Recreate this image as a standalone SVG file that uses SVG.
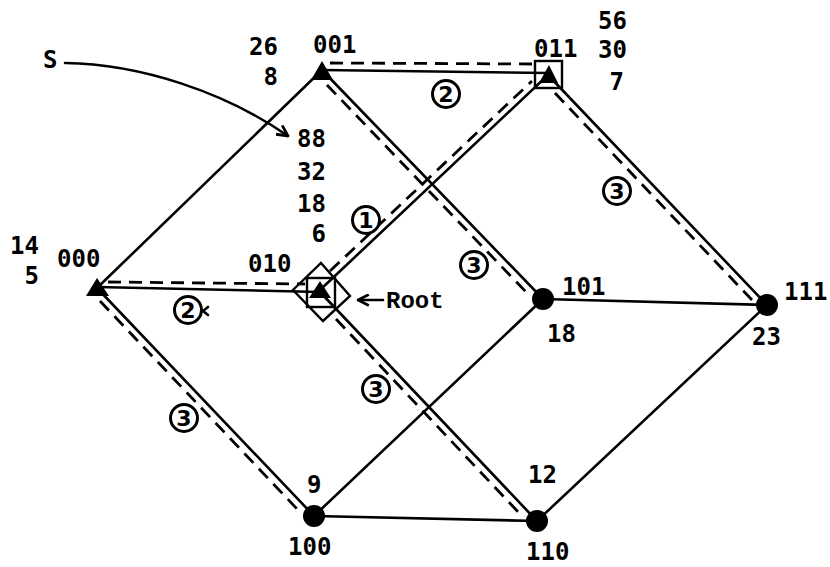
<svg xmlns="http://www.w3.org/2000/svg" width="830" height="567" viewBox="0 0 830 567">
  <defs>
    <style>
      .edge { stroke: #000; stroke-width: 2.6; fill: none; stroke-linecap: round; }
      .tree { stroke: #000; stroke-width: 2.8; fill: none; stroke-dasharray: 13 8; }
      .lbl { font-family: "DejaVu Sans Mono", "Liberation Mono", monospace; font-size: 24px; font-weight: bold; fill: #000; }
      .mono { font-family: "Liberation Mono", "Courier New", monospace; font-size: 24px; font-weight: bold; fill: #000; }
      .ring { stroke: #000; stroke-width: 3; fill: #fff; }
      .cnum { font-family: "DejaVu Sans", "Liberation Sans", sans-serif; font-size: 22px; font-weight: bold; fill: #000; text-anchor: middle; }
      .tri { fill: #000; }
      .dot { fill: #000; }
      .box { stroke: #000; stroke-width: 2.4; fill: none; }
    </style>
    <marker id="openHead" viewBox="0 0 12 12" refX="11" refY="6" markerWidth="13" markerHeight="13" markerUnits="userSpaceOnUse" orient="auto">
      <path d="M1,1 L11,6 L1,11" fill="none" stroke="#000" stroke-width="2.6"/>
    </marker>
    <marker id="rootHead" viewBox="0 0 12 12" refX="1" refY="6" markerWidth="13" markerHeight="13" markerUnits="userSpaceOnUse" orient="auto">
      <path d="M11,1 L1,6 L11,11" fill="none" stroke="#000" stroke-width="2.6"/>
    </marker>
  </defs>

  <rect width="830" height="567" fill="#fff"/>

  <!-- cube edges and spanning-tree paths -->
  <g id="connectors">
    <line class="edge" x1="97" y1="288" x2="322" y2="70"/>
    <line class="edge" x1="97" y1="287" x2="320" y2="292"/>
    <line class="edge" x1="97" y1="288" x2="314" y2="516"/>
    <line class="edge" x1="322" y1="70" x2="548" y2="73"/>
    <line class="edge" x1="322" y1="70" x2="543" y2="299"/>
    <line class="edge" x1="320" y1="290" x2="548" y2="75"/>
    <line class="edge" x1="320" y1="292" x2="537" y2="521"/>
    <line class="edge" x1="548" y1="75" x2="767" y2="305"/>
    <line class="edge" x1="314" y1="516" x2="543" y2="299"/>
    <line class="edge" x1="314" y1="516" x2="537" y2="521"/>
    <line class="edge" x1="543" y1="299" x2="767" y2="305"/>
    <line class="edge" x1="537" y1="521" x2="767" y2="305"/>

    <!-- broadcast tree from the root -->
    <line class="tree" x1="330" y1="63" x2="536" y2="64"/>
    <line class="tree" x1="327" y1="85" x2="528" y2="294"/>
    <line class="tree" x1="330" y1="271" x2="532" y2="81"/>
    <line class="tree" x1="555" y1="93" x2="752" y2="300"/>
    <line class="tree" x1="108" y1="282" x2="305" y2="284"/>
    <line class="tree" x1="100" y1="301" x2="299" y2="511"/>
    <line class="tree" x1="336" y1="319" x2="522" y2="516"/>

    <!-- source pointer -->
    <path class="edge" d="M65,63 C140,64 225,92 288,136" marker-end="url(#openHead)"/>
    <!-- root pointer -->
    <line class="edge" x1="358" y1="300" x2="383" y2="300" marker-start="url(#rootHead)"/>
  </g>

  <!-- nodes -->
  <g id="n000">
    <polygon class="tri" points="97,278 86,296 109,296"/>
    <text class="lbl" x="57" y="267">000</text>
    <text class="lbl" x="39" y="254" text-anchor="end">14</text>
    <text class="lbl" x="39" y="284" text-anchor="end">5</text>
  </g>
  <g id="n001">
    <polygon class="tri" points="322,61 311,80 333,80"/>
    <text class="lbl" x="313" y="53">001</text>
    <text class="lbl" x="278" y="55" text-anchor="end">26</text>
    <text class="lbl" x="278" y="85" text-anchor="end">8</text>
  </g>
  <g id="n010">
    <polygon class="box" points="321,263 350,296 323,321 293,290"/>
    <rect class="box" x="307" y="278" width="28" height="29"/>
    <polygon class="tri" points="320,281 309,298 331,298"/>
    <text class="lbl" x="248" y="272">010</text>
    <text class="lbl" x="326" y="147" text-anchor="end">88</text>
    <text class="lbl" x="326" y="180" text-anchor="end">32</text>
    <text class="lbl" x="326" y="212" text-anchor="end">18</text>
    <text class="lbl" x="326" y="242" text-anchor="end">6</text>
    <text class="mono" x="386" y="308">Root</text>
  </g>
  <g id="n011">
    <rect class="box" x="535" y="61" width="27" height="27"/>
    <polygon class="tri" points="549,65 539,83 558,83"/>
    <text class="lbl" x="534" y="57">011</text>
    <text class="lbl" x="627" y="29" text-anchor="end">56</text>
    <text class="lbl" x="627" y="58" text-anchor="end">30</text>
    <text class="lbl" x="624" y="90" text-anchor="end">7</text>
  </g>
  <g id="n100">
    <circle class="dot" cx="314" cy="516" r="11"/>
    <text class="lbl" x="288" y="555">100</text>
    <text class="lbl" x="307" y="493">9</text>
  </g>
  <g id="n101">
    <circle class="dot" cx="543" cy="299" r="11"/>
    <text class="lbl" x="562" y="295">101</text>
    <text class="lbl" x="547" y="342">18</text>
  </g>
  <g id="n110">
    <circle class="dot" cx="537" cy="521" r="11"/>
    <text class="lbl" x="526" y="560">110</text>
    <text class="lbl" x="528" y="483">12</text>
  </g>
  <g id="n111">
    <circle class="dot" cx="767" cy="305" r="11"/>
    <text class="lbl" x="784" y="300">111</text>
    <text class="lbl" x="752" y="345">23</text>
  </g>

  <text class="lbl" x="43" y="68">S</text>

  <!-- hop counts along the tree -->
  <g id="hops">
    <circle class="ring" cx="446" cy="94" r="13.5"/>
    <text class="cnum" x="446" y="102">2</text>
    <circle class="ring" cx="366" cy="220" r="13.5"/>
    <text class="cnum" x="366" y="228">1</text>
    <circle class="ring" cx="474" cy="265" r="13.5"/>
    <text class="cnum" x="474" y="273">3</text>
    <circle class="ring" cx="617" cy="191" r="13.5"/>
    <text class="cnum" x="617" y="199">3</text>
    <circle class="ring" cx="188" cy="310" r="13.5"/>
    <text class="cnum" x="188" y="318">2</text>
    <path class="edge" d="M208,307 L203,311 L208,315" stroke-width="2"/>
    <circle class="ring" cx="376" cy="389" r="13.5"/>
    <text class="cnum" x="376" y="397">3</text>
    <circle class="ring" cx="184" cy="418" r="13.5"/>
    <text class="cnum" x="184" y="426">3</text>
  </g>
</svg>
